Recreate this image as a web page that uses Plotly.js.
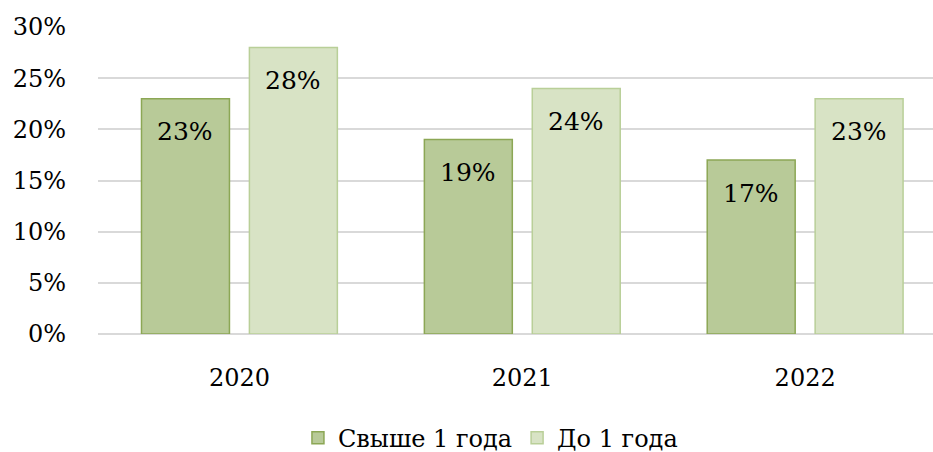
<!DOCTYPE html>
<html>
<head>
<meta charset="utf-8">
<script src="https://cdn.plot.ly/plotly-3.0.1.min.js"></script>
<style>html,body{margin:0;padding:0;background:#fff;}#chart{width:933px;height:452px;}</style>
</head>
<body>
<div id="chart"></div>
<script>
const categories = ['2020', '2021', '2022'];
const seriesNames = ['Свыше 1 года', 'До 1 года'];
const over1Year = [0.23, 0.19, 0.17];
const upTo1Year = [0.28, 0.24, 0.23];
const yTickVals = [0, 0.05, 0.10, 0.15, 0.20, 0.25, 0.30];
const yTickText = ['0%', '5%', '10%', '15%', '20%', '25%', '30%'];

const FONT = 'DejaVu Serif';
const FS = 24;
const fills = ['#b8ca98', '#d8e3c5'];
const borders = ['#8ca755', '#b9cf98'];
const seriesData = [over1Year, upTo1Year];

const traces = seriesData.map((vals, i) => ({
  type: 'bar',
  name: seriesNames[i],
  x: categories,
  y: vals,
  marker: {color: fills[i], line: {color: borders[i], width: 1.5}},
  hoverinfo: 'skip'
}));

const annotations = [];
seriesData.forEach((vals, i) => {
  vals.forEach((v, j) => {
    annotations.push({
      x: j, y: v, xref: 'x', yref: 'y',
      text: Math.round(v * 100) + '%',
      showarrow: false,
      xshift: i === 0 ? -54 : 54,
      yshift: -33,
      yanchor: 'middle',
      xanchor: 'center',
      font: {family: FONT, size: 25, color: '#000'}
    });
  });
});

const layout = {
  width: 933, height: 452,
  margin: {l: 98, r: 0, t: 27, b: 118, pad: 0, autoexpand: false},
  paper_bgcolor: '#fff', plot_bgcolor: '#fff',
  font: {family: FONT, size: FS, color: '#000'},
  barmode: 'group',
  bargap: 0.237,
  bargroupgap: 0.185,
  showlegend: true,
  legend: {
    orientation: 'h', x: 0.47, xanchor: 'center', y: -0.339, yanchor: 'middle',
    font: {family: FONT, size: FS, color: '#000'},
    itemclick: false, itemdoubleclick: false, traceorder: 'normal',
    itemwidth: 30
  },
  xaxis: {
    type: 'category',
    range: [-0.5, 2.452],
    showgrid: false, zeroline: false, showline: false,
    ticks: '', ticklabelstandoff: 27,
    tickfont: {family: FONT, size: FS, color: '#000'},
    automargin: false,
    fixedrange: true
  },
  yaxis: {
    range: [0, 0.30],
    tickvals: yTickVals, ticktext: yTickText,
    showgrid: true, gridcolor: '#d9d9d9', gridwidth: 1.5,
    zeroline: true, zerolinecolor: '#d9d9d9', zerolinewidth: 1.5,
    showline: false, ticks: '', ticklabelstandoff: 31,
    tickfont: {family: FONT, size: FS, color: '#000'},
    automargin: false,
    fixedrange: true
  },
  annotations: annotations
};

Plotly.newPlot('chart', traces, layout, {displayModeBar: false});
</script>
</body>
</html>
